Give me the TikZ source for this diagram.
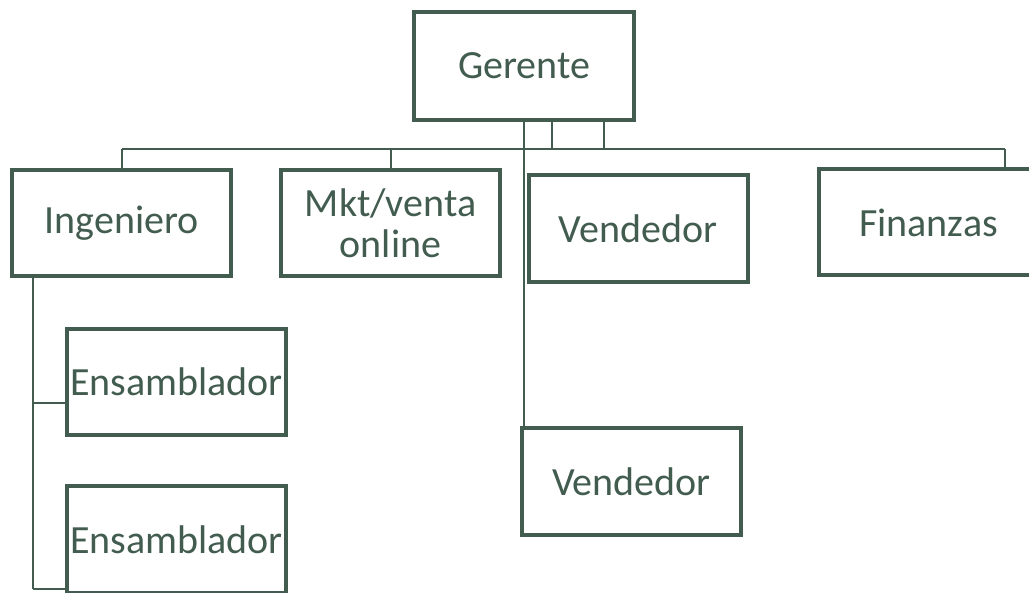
\documentclass[tikz,border=0pt]{standalone}
\usepackage{fontspec}
\setmainfont{Carlito}
\definecolor{org}{HTML}{425C4F}
\begin{document}
\begin{tikzpicture}[x=1pt,y=-1pt,
  box/.style={draw=org,line width=4pt,fill=white,text=org,inner sep=0pt,
    minimum width=219pt,minimum height=106pt,align=center,
    font=\fontsize{40}{41}\selectfont},
  link/.style={draw=org,line width=2pt}]
\clip (0,0) rectangle (1029,593);
\useasboundingbox (0,0) rectangle (1029,593);
% connector anchor points
\coordinate (g1) at (524,122);
\coordinate (g2) at (552,122);
\coordinate (g3) at (604,122);
\coordinate (b1) at (122,149);
\coordinate (b4) at (1005,149);
\coordinate (e0) at (33,278);
\coordinate (e1) at (33,403);
\coordinate (e2) at (33,589);
% nodes
\node[box,minimum width=220pt,minimum height=108pt] (ger) at (524,66) {Gerente};
\node[box] (ing) at (121.5,223.5) {Ingeniero};
\node[box] (mkt) at (390.5,223.5) {Mkt/venta\\online};
\node[box,minimum height=107pt] (ven1) at (638,228.5) {Vendedor};
\node[box] (fin) at (928.5,222.5) {Finanzas};
\node[box] (ens1) at (176.5,382) {Ensamblador};
\node[box] (ens2) at (176.5,539.5) {Ensamblador};
\node[box,minimum height=107pt] (ven2) at (631.5,481.5) {Vendedor};
% links
\draw[link] (ger.south -| g1) -- (ven2.north -| g1);
\draw[link] (ger.south -| g2) -- (g2 |- b1);
\draw[link] (ger.south -| g3) -- (g3 |- b1);
\draw[link] (b1) -- (b4);
\draw[link] (b1) -- (ing.north -| b1);
\draw[link] (b1 -| mkt.north) -- (mkt.north);
\draw[link] (b4) -- (fin.north -| b4);
\draw[link] (ing.south -| e0) -- (e2);
\draw[link] (e1) -- (ens1.west |- e1);
\draw[link] (e2) -- (ens2.west |- e2);
\end{tikzpicture}
\end{document}
